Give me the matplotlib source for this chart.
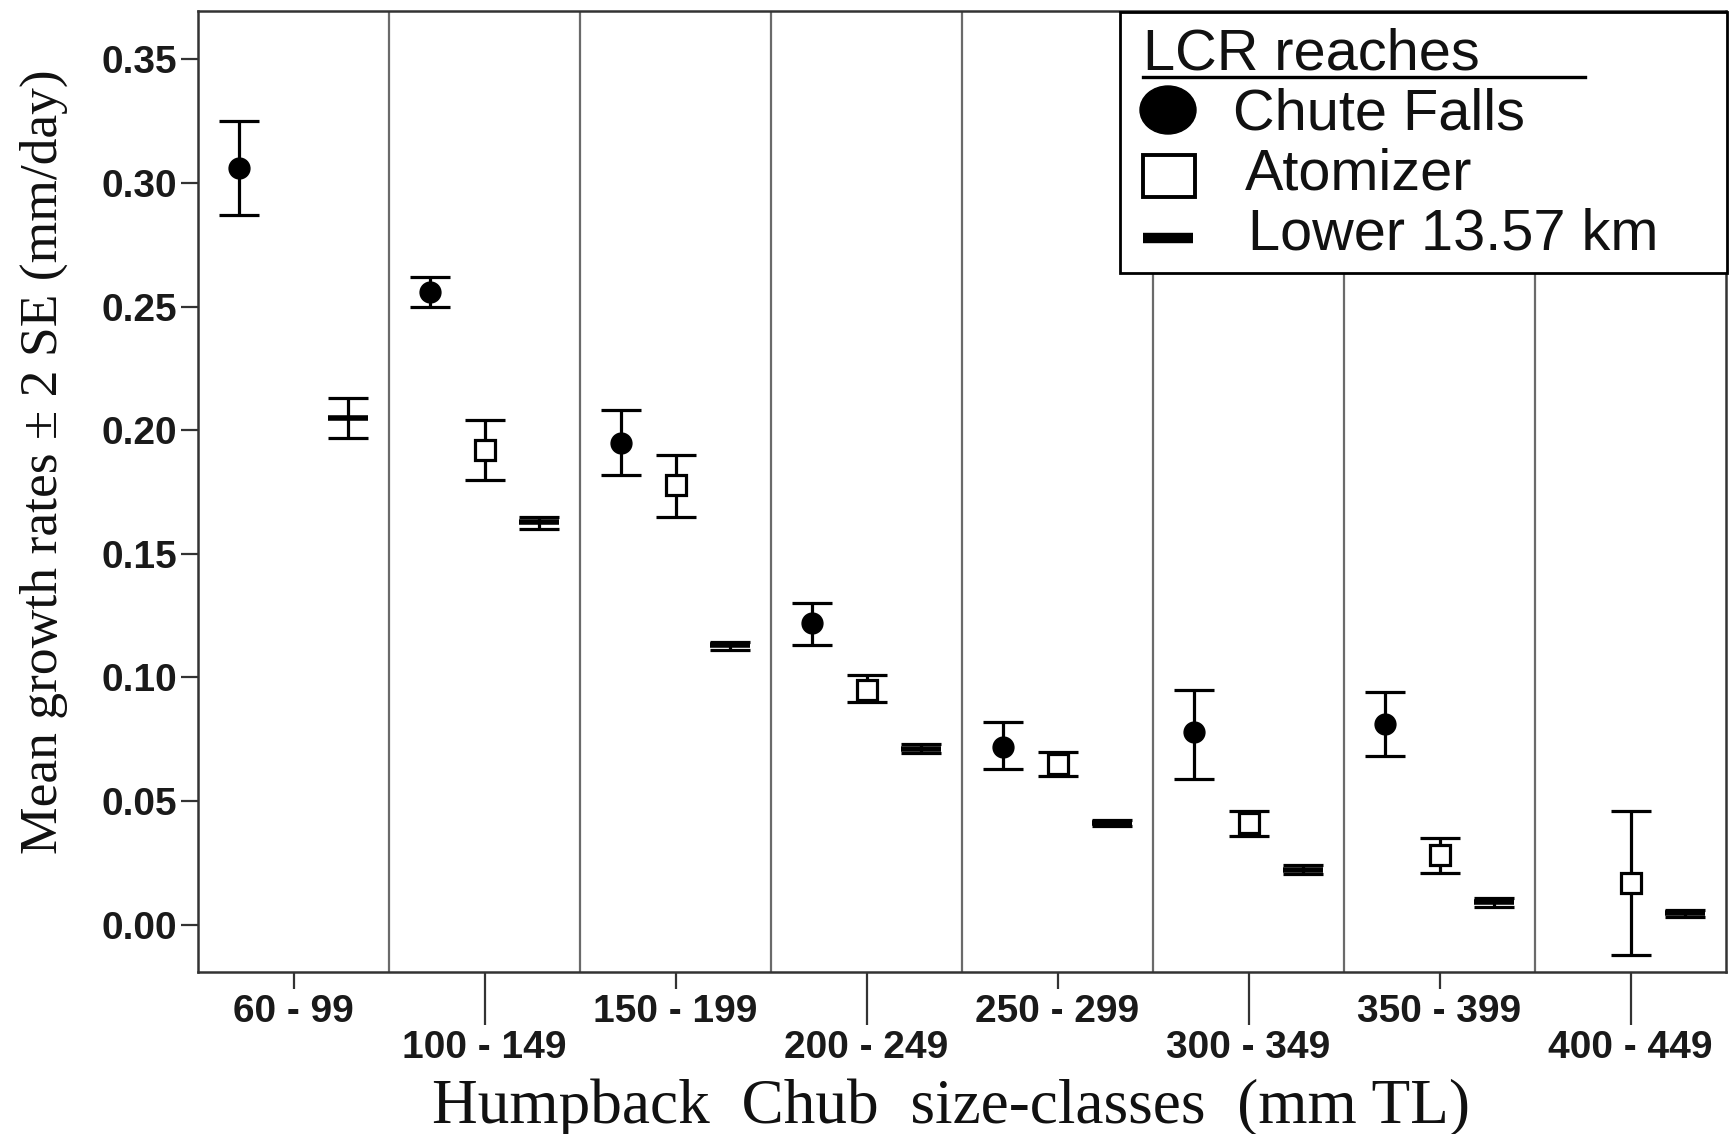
import numpy as np
import matplotlib
matplotlib.use("Agg")
import matplotlib.pyplot as plt
from matplotlib.lines import Line2D
from matplotlib.patches import Rectangle, Ellipse

# size classes (mm TL) and mean growth +/- 2 SE for each LCR reach
size_classes = ["60 - 99", "100 - 149", "150 - 199", "200 - 249",
                "250 - 299", "300 - 349", "350 - 399", "400 - 449"]

chute_mean = [0.306, 0.256, 0.195, 0.122, 0.072, 0.078, 0.081, np.nan]
chute_lo = [0.287, 0.250, 0.182, 0.113, 0.063, 0.059, 0.068, np.nan]
chute_hi = [0.325, 0.262, 0.208, 0.130, 0.082, 0.095, 0.094, np.nan]

atom_mean = [np.nan, 0.192, 0.178, 0.095, 0.065, 0.041, 0.028, 0.017]
atom_lo = [np.nan, 0.180, 0.165, 0.090, 0.060, 0.036, 0.021, -0.0125]
atom_hi = [np.nan, 0.204, 0.190, 0.101, 0.070, 0.046, 0.035, 0.046]

lower_mean = [0.205, 0.163, 0.113, 0.071, 0.041, 0.022, 0.009, 0.0045]
lower_lo = [0.197, 0.160, 0.111, 0.0695, 0.0397, 0.0205, 0.0071, 0.0031]
lower_hi = [0.213, 0.165, 0.1145, 0.0731, 0.0423, 0.0241, 0.0107, 0.0058]

W, H = 1729, 1134
fig = plt.figure(figsize=(W / 100, H / 100), dpi=100)
ax = fig.add_axes([198 / W, 1 - 972 / H, (1726 - 198) / W, (972 - 11) / H])

def fx(px):
    return px / W

def fy(py):
    return 1 - py / H

x = np.arange(len(size_classes))
off = 0.284

def draw(xpos, mean, lo, hi, **kw):
    mean = np.array(mean)
    err = [mean - np.array(lo), np.array(hi) - mean]
    ax.errorbar(xpos, mean, yerr=err, fmt="none", ecolor="black",
                elinewidth=2.3, capsize=14.3, capthick=2.3, zorder=3)
    ax.plot(xpos, mean, linestyle="none", zorder=4, **kw)

draw(x - off, chute_mean, chute_lo, chute_hi,
     marker="o", ms=15, mfc="black", mec="black")
draw(x, atom_mean, atom_lo, atom_hi,
     marker="s", ms=14, mfc="white", mec="black", mew=2.3)
draw(x + off, lower_mean, lower_lo, lower_hi,
     marker="_", ms=29, mec="black", mew=4)

# dividers between size classes
for b in x[:-1] + 0.5:
    ax.axvline(b, color="#6a6a6a", lw=1.6, zorder=1)

ax.set_xlim(-0.5, len(size_classes) - 0.5)
ax.set_ylim(-0.0192, 0.3696)
ax.set_yticks([0.0, 0.05, 0.10, 0.15, 0.20, 0.25, 0.30, 0.35])
ax.set_yticklabels(["0.00", "0.05", "0.10", "0.15", "0.20", "0.25", "0.30", "0.35"])

# staggered x labels: even classes on the top row, odd ones dropped down
ax.set_xticks(x[::2])
ax.set_xticklabels(size_classes[::2])
ax.set_xticks(x[1::2], minor=True)
ax.set_xticklabels(size_classes[1::2], minor=True)

for lab in ax.get_yticklabels() + ax.get_xticklabels() + ax.get_xticklabels(minor=True):
    lab.set_fontfamily("Liberation Sans")
    lab.set_fontsize(28)
    lab.set_fontweight("bold")
    lab.set_color("#1a1a1a")

ax.tick_params(axis="y", length=12, width=1.6, pad=3, color="#333333")
ax.tick_params(axis="x", which="major", length=12, width=1.6, pad=4, color="#333333")
ax.tick_params(axis="x", which="minor", length=38, width=1.6, pad=4, color="#333333")

for s in ax.spines.values():
    s.set_linewidth(1.8)
    s.set_color("#333333")

fig.text(fx(44), fy(462), "Mean growth rates \u00b1 2 SE (mm/day)", rotation=90,
         ha="center", va="center", family="Liberation Serif", size=38.5, color="#111111")
fig.text(fx(951), fy(1108), "Humpback  Chub  size-classes  (mm TL)",
         ha="center", va="center", family="Liberation Serif", size=45.5, color="#111111")

# legend box drawn by hand so the title can carry an underline
fig.add_artist(Rectangle((fx(1120), fy(273)), fx(1727) - fx(1120), fy(12) - fy(273),
                         transform=fig.transFigure, facecolor="white",
                         edgecolor="black", lw=2.0, zorder=10))
leg_font = dict(family="Liberation Sans", size=41.5, color="#111111", zorder=11,
                ha="left", va="baseline")
fig.text(fx(1143), fy(70), "LCR reaches", **leg_font)
fig.add_artist(Line2D([fx(1143), fx(1585)], [fy(77), fy(77)], transform=fig.transFigure,
                      color="black", lw=2.4, zorder=11))
fig.add_artist(Ellipse((fx(1168), fy(110)), fx(56), 48 / H, transform=fig.transFigure,
                       facecolor="black", edgecolor="black", zorder=11))
fig.add_artist(Rectangle((fx(1143), fy(197)), fx(52), 42 / H, transform=fig.transFigure,
                         facecolor="white", edgecolor="black", lw=2.8, zorder=11))
fig.add_artist(Line2D([fx(1143), fx(1193)], [fy(238), fy(238)], transform=fig.transFigure,
                      color="black", lw=7.5, solid_capstyle="butt", zorder=11))
fig.text(fx(1233), fy(129), "Chute Falls", **leg_font)
fig.text(fx(1245), fy(189), "Atomizer", **leg_font)
fig.text(fx(1248), fy(249), "Lower 13.57 km", **leg_font)

fig.savefig("out.png", dpi=100)
